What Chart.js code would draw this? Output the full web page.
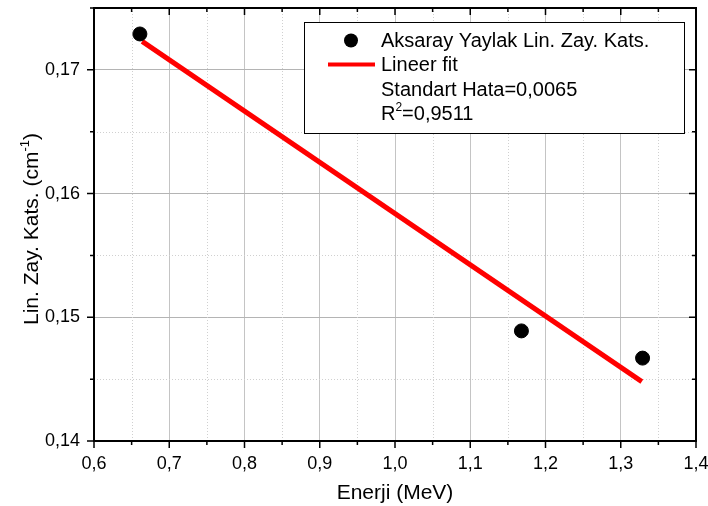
<!DOCTYPE html>
<html>
<head>
<meta charset="utf-8">
<script src="https://cdn.jsdelivr.net/npm/chart.js@4"></script>
<style>
  body { margin: 0; background: #fff; }
  #wrap { width: 708px; height: 506px; }
</style>
</head>
<body>
<div id="wrap"><canvas id="myChart" width="708" height="506"></canvas></div>
<script>
// measured points
const energies = [0.661, 1.168, 1.329];
const linAtt = [0.1729, 0.1489, 0.1467];
// fitted line ends
const fitX = [0.664, 1.328];
const fitY = [0.1723, 0.1448];
const xTicks = [0.6, 0.7, 0.8, 0.9, 1.0, 1.1, 1.2, 1.3, 1.4];
const yTicks = [0.14, 0.15, 0.16, 0.17];
const legendLines = ['Aksaray Yaylak Lin. Zay. Kats.', 'Lineer fit', 'Standart Hata=0,0065'];

const FONT = 'Arial, "Liberation Sans", sans-serif';
const comma = (v, d) => v.toFixed(d).replace('.', ',');

// frame, tick marks, minor grid, y title and the legend box
const framePlugin = {
    id: 'frame',
    beforeDatasetsDraw(chart) {
        const { ctx, chartArea: a, scales: { x, y } } = chart;
        ctx.save();
        ctx.strokeStyle = '#d0d0d0';
        ctx.lineWidth = 1;
        ctx.setLineDash([1, 2]);
        for (let v = 0.65; v < 1.4; v += 0.1) {
            const px = Math.round(x.getPixelForValue(v)) + 0.5;
            ctx.beginPath(); ctx.moveTo(px, a.top); ctx.lineTo(px, a.bottom); ctx.stroke();
        }
        for (let v = 0.145; v < 0.175; v += 0.01) {
            const py = Math.round(y.getPixelForValue(v)) + 0.5;
            ctx.beginPath(); ctx.moveTo(a.left, py); ctx.lineTo(a.right, py); ctx.stroke();
        }
        ctx.restore();
    },
    afterDatasetsDraw(chart) {
        const { ctx, chartArea: a, scales: { x, y } } = chart;
        ctx.save();
        ctx.strokeStyle = '#000';
        ctx.lineWidth = 1.5;
        ctx.setLineDash([]);
        // ticks
        for (let i = 0; i <= 16; i++) {
            const v = 0.6 + i * 0.05;
            const px = x.getPixelForValue(v);
            const len = i % 2 === 0 ? 7 : 4;
            ctx.beginPath();
            ctx.moveTo(px, a.bottom); ctx.lineTo(px, a.bottom + len);
            ctx.moveTo(px, a.top); ctx.lineTo(px, a.top + len);
            ctx.stroke();
        }
        for (let i = 0; i <= 7; i++) {
            const v = 0.14 + i * 0.005;
            const py = y.getPixelForValue(v);
            const len = i % 2 === 0 ? 7 : 4;
            ctx.beginPath();
            ctx.moveTo(a.left, py); ctx.lineTo(a.left - len, py);
            ctx.moveTo(a.right, py); ctx.lineTo(a.right - len, py);
            ctx.stroke();
        }
        ctx.lineWidth = 2;
        ctx.strokeRect(a.left, a.top, a.right - a.left, a.bottom - a.top);

        // y title with superscript
        ctx.fillStyle = '#000';
        ctx.textBaseline = 'alphabetic';
        ctx.translate(38, 229);
        ctx.rotate(-Math.PI / 2);
        const t1 = 'Lin. Zay. Kats. (cm';
        ctx.font = '21px ' + FONT;
        const w1 = ctx.measureText(t1).width;
        ctx.font = '13px ' + FONT;
        const w2 = ctx.measureText('-1').width;
        ctx.font = '21px ' + FONT;
        const w3 = ctx.measureText(')').width;
        let sx = -(w1 + w2 + w3) / 2;
        ctx.fillText(t1, sx, 0);
        ctx.font = '13px ' + FONT;
        ctx.fillText('-1', sx + w1, -9);
        ctx.font = '21px ' + FONT;
        ctx.fillText(')', sx + w1 + w2, 0);
        ctx.setTransform(1, 0, 0, 1, 0, 0);

        // legend
        const bx = 304.5, by = 22.5, bw = 380, bh = 111;
        ctx.fillStyle = '#fff';
        ctx.fillRect(bx, by, bw, bh);
        ctx.lineWidth = 1;
        ctx.strokeStyle = '#000';
        ctx.strokeRect(bx, by, bw, bh);
        ctx.fillStyle = '#000';
        ctx.beginPath(); ctx.arc(351, 40.5, 7, 0, Math.PI * 2); ctx.fill();
        ctx.strokeStyle = '#ff0000';
        ctx.lineWidth = 4;
        ctx.beginPath(); ctx.moveTo(328, 64.5); ctx.lineTo(375, 64.5); ctx.stroke();
        ctx.fillStyle = '#000';
        ctx.font = '20px ' + FONT;
        ctx.textBaseline = 'middle';
        legendLines.forEach((t, i) => ctx.fillText(t, 381, 41 + i * 24.6));
        // R² line
        const ry = 41 + 3 * 24.6;
        ctx.fillText('R', 381, ry);
        const rw = ctx.measureText('R').width;
        ctx.font = '12px ' + FONT;
        ctx.fillText('2', 381 + rw, ry - 7);
        const sw = ctx.measureText('2').width;
        ctx.font = '20px ' + FONT;
        ctx.fillText('=0,9511', 381 + rw + sw, ry);
        ctx.restore();
    }
};

const ctx = document.getElementById('myChart').getContext('2d');
const myChart = new Chart(ctx, {
    type: 'scatter',
    data: {
        datasets: [{
            label: 'Aksaray Yaylak Lin. Zay. Kats.',
            data: energies.map((e, i) => ({ x: e, y: linAtt[i] })),
            backgroundColor: '#000',
            borderColor: '#000',
            pointRadius: 7,
            order: 1
        }, {
            label: 'Lineer fit',
            data: fitX.map((e, i) => ({ x: e, y: fitY[i] })),
            showLine: true,
            borderColor: '#ff0000',
            borderWidth: 5,
            pointRadius: 0,
            order: 2
        }]
    },
    options: {
        responsive: false,
        animation: false,
        layout: { padding: { left: 0, top: 7, right: 12, bottom: 0 } },
        plugins: { legend: { display: false }, tooltip: { enabled: false } },
        scales: {
            x: {
                type: 'linear',
                min: 0.6, max: 1.4,
                afterBuildTicks: s => { s.ticks = xTicks.map(v => ({ value: v })); },
                afterFit: s => { s.height = 65; s.paddingLeft = 0; s.paddingRight = 0; },
                grid: { color: '#c4c4c4', drawTicks: false },
                border: { display: false },
                ticks: {
                    padding: 12,
                    color: '#000',
                    font: { family: FONT, size: 18 },
                    callback: v => comma(v, 1)
                },
                title: {
                    display: true,
                    text: 'Enerji (MeV)',
                    color: '#000',
                    font: { family: FONT, size: 21 },
                    padding: { top: 0, bottom: 0 }
                }
            },
            y: {
                type: 'linear',
                min: 0.14, max: 0.175,
                afterBuildTicks: s => { s.ticks = yTicks.map(v => ({ value: v })); },
                afterFit: s => { s.width = 94; s.paddingTop = 0; s.paddingBottom = 0; },
                grid: { color: '#b4b4b4', drawTicks: false },
                border: { display: false },
                ticks: {
                    padding: 14,
                    color: '#000',
                    font: { family: FONT, size: 18 },
                    callback: v => comma(v, 2)
                },
                title: { display: false }
            }
        }
    },
    plugins: [framePlugin]
});
</script>
</body>
</html>
